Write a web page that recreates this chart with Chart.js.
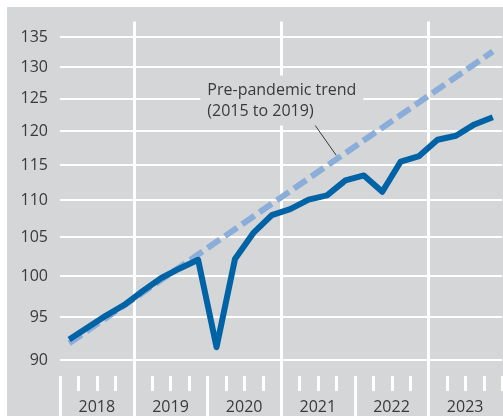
<!DOCTYPE html>
<html>
<head>
<meta charset="utf-8">
<script src="https://cdn.jsdelivr.net/npm/chart.js@4/dist/chart.umd.min.js"></script>
<style>
  html, body { margin: 0; padding: 0; background: #fff; }
  canvas { display: block; }
</style>
</head>
<body>
<canvas id="chart" width="503" height="416"></canvas>
<script>
// quarters 2018 Q1 .. 2023 Q4
const years = ['2018', '2019', '2020', '2021', '2022', '2023'];
const quarters = years.flatMap(y => ['Q1', 'Q2', 'Q3', 'Q4'].map(q => y + ' ' + q));

const actual = [92.4, 93.8, 95.2, 96.5, 98.2, 99.8, 101.0, 102.1,
                91.5, 102.2, 105.6, 108.0, 108.8, 110.1, 110.7, 112.8,
                113.5, 111.2, 115.5, 116.3, 118.7, 119.3, 121.0, 122.1];

// pre-pandemic trend (2015 to 2019)
const trend = [91.95, 93.42, 94.92, 96.44, 97.99, 99.56, 101.16, 102.78,
               104.43, 106.10, 107.81, 109.54, 111.29, 113.08, 114.89, 116.74,
               118.61, 120.51, 122.45, 124.41, 126.41, 128.43, 130.49, 132.59];

const yTicks = [90, 95, 100, 105, 110, 115, 120, 125, 130, 135];
const trendLabel = ['Pre-pandemic trend', '(2015 to 2019)'];

const BG = '#d5d6d8';
const TEXT = '#3a3a3a';
const FONT = '"Open Sans", sans-serif';

const decor = {
  id: 'decor',
  beforeDraw(chart) {
    const { ctx } = chart;
    ctx.save();
    ctx.fillStyle = '#ffffff';
    ctx.fillRect(0, 0, chart.width, chart.height);
    ctx.fillStyle = BG;
    ctx.fillRect(7, 7, chart.width - 7, chart.height - 7);
    ctx.restore();
  },
  beforeDatasetsDraw(chart) {
    const { ctx, chartArea } = chart;
    const x = chart.scales.x;
    const y = chart.scales.y;
    const step = x.getPixelForValue(1) - x.getPixelForValue(0);
    const edge = i => x.getPixelForValue(i) - step / 2;
    const tickTop = chartArea.bottom + 6;

    ctx.save();
    ctx.strokeStyle = '#ffffff';
    ctx.lineWidth = 3;
    for (let i = 0; i <= quarters.length; i++) {
      const px = Math.round(edge(i)) + 0.5;
      ctx.beginPath();
      if (i % 8 === 4) {
        ctx.moveTo(px, chartArea.top);
        ctx.lineTo(px, chart.height);
      } else if (i % 4 === 0 && i < quarters.length) {
        ctx.moveTo(px, tickTop);
        ctx.lineTo(px, chart.height);
      } else {
        ctx.moveTo(px, tickTop);
        ctx.lineTo(px, tickTop + 15);
      }
      ctx.stroke();
    }

    // year labels
    ctx.fillStyle = TEXT;
    ctx.font = '16px ' + FONT;
    ctx.textAlign = 'center';
    ctx.textBaseline = 'middle';
    years.forEach((yr, k) => {
      const cx = (edge(k * 4) + edge(k * 4 + 4)) / 2;
      ctx.fillText(yr, cx, chart.height - 9);
    });

    // label box for the trend
    const tx = edge(8);
    const y125 = y.getPixelForValue(125);
    ctx.fillStyle = BG;
    ctx.fillRect(tx - 7, y125 - 23, 163, 50);
    ctx.fillStyle = TEXT;
    ctx.textAlign = 'left';
    ctx.fillText(trendLabel[0], tx, y125 - 8);
    ctx.fillText(trendLabel[1], tx, y125 + 13);

    // leader line to the dashed trend
    const lx = edge(15);
    const ly = y.getPixelForValue((trend[14] + trend[15]) / 2);
    ctx.strokeStyle = TEXT;
    ctx.lineWidth = 1;
    ctx.beginPath();
    ctx.moveTo(lx - 21, y125 + 27);
    ctx.lineTo(lx, ly - 4);
    ctx.stroke();
    ctx.restore();
  }
};

new Chart(document.getElementById('chart'), {
  type: 'line',
  data: {
    labels: quarters,
    datasets: [
      {
        data: actual,
        borderColor: '#0063a6',
        borderWidth: 6,
        borderJoinStyle: 'round',
        pointRadius: 0,
        tension: 0
      },
      {
        data: trend,
        borderColor: '#8aadd9',
        borderWidth: 6,
        borderDash: [15, 6],
        pointRadius: 0,
        tension: 0
      }
    ]
  },
  options: {
    responsive: false,
    animation: false,
    layout: { padding: { top: 18, right: 1, bottom: 46, left: 0 } },
    plugins: {
      legend: { display: false },
      tooltip: { enabled: false }
    },
    scales: {
      x: {
        type: 'category',
        offset: true,
        display: false
      },
      y: {
        type: 'logarithmic',
        min: 88.92,
        max: 137.66,
        afterFit(scale) { scale.width = 60; },
        afterBuildTicks(scale) {
          scale.ticks = yTicks.map(v => ({ value: v }));
        },
        border: { display: false },
        grid: {
          color: '#ffffff',
          lineWidth: 2,
          drawTicks: false
        },
        ticks: {
          padding: 12,
          color: TEXT,
          font: { family: FONT, size: 16 },
          callback: v => String(v)
        }
      }
    }
  },
  plugins: [decor]
});
</script>
</body>
</html>
